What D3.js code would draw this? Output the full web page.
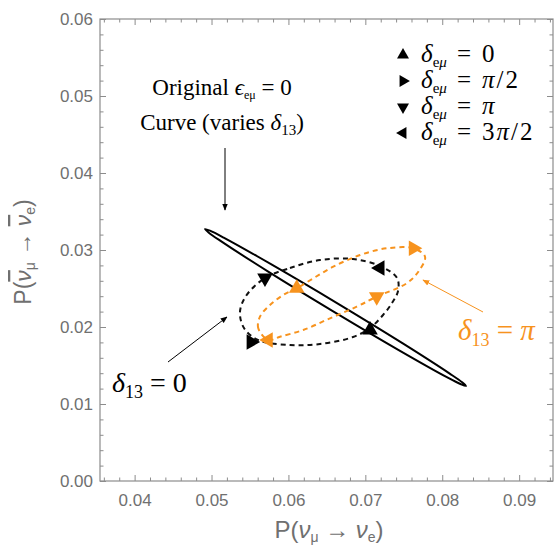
<!DOCTYPE html>
<html><head><meta charset="utf-8">
<script src="https://cdn.jsdelivr.net/npm/d3@7"></script>
<style>body{margin:0;background:#fff}</style>
</head><body>
<svg id="c" width="555" height="548"></svg>
<script>
// ---- data ----
const xTicks = [0.04, 0.05, 0.06, 0.07, 0.08, 0.09];
const yTicks = [0.00, 0.01, 0.02, 0.03, 0.04, 0.05, 0.06];
const xDomain = [0.0355, 0.0944];
const yDomain = [0, 0.06];

// original epsilon=0 curve (solid)
const solidCurve = [
  [0.08309,0.01234],[0.08244,0.01256],[0.08066,0.01345],[0.07434,0.01700],[0.06582,0.02203],
  [0.05737,0.02719],[0.05127,0.03112],[0.04965,0.03225],[0.04915,0.03273],[0.04980,0.03251],
  [0.05158,0.03161],[0.05790,0.02806],[0.06642,0.02304],[0.07487,0.01787],[0.08097,0.01395],
  [0.08259,0.01282]
];
// delta13 = 0 curve (black dashed)
const blackCurve = [
  [0.05695,0.02636],[0.06020,0.02766],[0.06410,0.02870],[0.06840,0.02883],[0.07191,0.02792],
  [0.07412,0.02636],[0.07425,0.02468],[0.07347,0.02312],[0.07230,0.02156],[0.07061,0.01987],
  [0.06840,0.01870],[0.06410,0.01779],[0.06020,0.01766],[0.05604,0.01831],[0.05422,0.01987],
  [0.05370,0.02195],[0.05448,0.02403]
];
// delta13 = pi curve (orange dashed)
const orangeCurve = [
  [0.05738,0.01831],[0.05608,0.01983],[0.05630,0.02134],[0.05760,0.02286],[0.05933,0.02416],
  [0.06108,0.02503],[0.06323,0.02632],[0.06583,0.02783],[0.06931,0.02935],[0.07278,0.03022],
  [0.07624,0.03022],[0.07776,0.02913],[0.07689,0.02718],[0.07538,0.02568],[0.07148,0.02394],
  [0.06888,0.02264],[0.06540,0.02113],[0.06193,0.01961],[0.05890,0.01874]
];
// markers: [x, y, deltaEmu index]  (0:0, 1:pi/2, 2:pi, 3:3pi/2)
const blackMarkers = [
  [0.07061,0.01961,0],[0.05515,0.01805,1],[0.05695,0.02636,2],[0.07191,0.02766,3]
];
const orangeMarkers = [
  [0.06108,0.02503,0],[0.07624,0.03022,1],[0.07148,0.02394,2],[0.05738,0.01831,3]
];
const legendNum = ["0", "", "", "3"];
const legendPi = [false, true, true, true];
const legendDen = ["", "/2", "", "/2"];
const markerRot = [0, 90, 180, 270];

// ---- drawing ----
const svg = d3.select("#c");
const L = 100, R = 553, T = 19, B = 481;
const x = d3.scaleLinear().domain(xDomain).range([L, R]);
const y = d3.scaleLinear().domain(yDomain).range([B, T]);
const gray = "#8c8c8c", tickText = "#707070";
const orange = "#f7931e";
const sans = "'Liberation Sans', Arial, sans-serif";
const serif = "'Liberation Serif', 'Times New Roman', serif";

const minorX = d3.range(0.036, 0.0945, 0.002).filter(v => !xTicks.some(t => Math.abs(t - v) < 1e-6));
const minorY = d3.range(0.002, 0.06, 0.002).filter(v => !yTicks.some(t => Math.abs(t - v) < 1e-6));

function styleAxis(g){
  g.select(".domain").remove();
  g.selectAll(".tick line").attr("stroke", gray).attr("stroke-width", 1);
  g.selectAll(".tick text").attr("fill", tickText)
    .style("font-family", sans).style("font-size", "17px");
}
function axisPair(axisFn, pos, ticks, transform, labels){
  const a = axisFn(pos).tickValues(ticks).tickSizeInner(-6).tickSizeOuter(0);
  if (labels) a.tickPadding(labels).tickFormat(d3.format(".2f")); else a.tickFormat("");
  svg.append("g").attr("transform", transform).call(a).call(styleAxis);
}
axisPair(d3.axisBottom, x, xTicks, `translate(0,${B})`, 13);
axisPair(d3.axisTop, x, xTicks, `translate(0,${T})`, 0);
axisPair(d3.axisLeft, y, yTicks, `translate(${L},0)`, 7);
axisPair(d3.axisRight, y, yTicks, `translate(${R},0)`, 0);
function minor(axisFn, pos, ticks, transform){
  svg.append("g").attr("transform", transform)
    .call(axisFn(pos).tickValues(ticks).tickSizeInner(-3.5).tickSizeOuter(0).tickFormat(""))
    .call(styleAxis);
}
minor(d3.axisBottom, x, minorX, `translate(0,${B})`);
minor(d3.axisTop, x, minorX, `translate(0,${T})`);
minor(d3.axisLeft, y, minorY, `translate(${L},0)`);
minor(d3.axisRight, y, minorY, `translate(${R},0)`);
svg.append("rect").attr("x", L).attr("y", T).attr("width", R - L).attr("height", B - T)
  .attr("fill", "none").attr("stroke", gray).attr("stroke-width", 1.2);

// axis titles
function probTitle(sel, bar){
  sel.append("tspan").text("P(");
  const n1 = sel.append("tspan").attr("font-style", "italic").text("\u03bd");
  sel.append("tspan").attr("font-size", "14px").attr("dy", 4).text("\u03bc");
  sel.append("tspan").attr("dy", -4).text(" \u2192 ");
  const n2 = sel.append("tspan").attr("font-style", "italic").text("\u03bd");
  sel.append("tspan").attr("font-size", "14px").attr("dy", 4).text("e");
  sel.append("tspan").attr("dy", -4).text(")");
  if (bar) { n1.style("text-decoration", "overline"); n2.style("text-decoration", "overline"); }
}
probTitle(svg.append("text").attr("x", 329).attr("y", 538).attr("text-anchor", "middle")
  .attr("fill", tickText).style("font-family", sans).style("font-size", "24px"), false);
probTitle(svg.append("text").attr("transform", "translate(31,252) rotate(-90)").attr("text-anchor", "middle")
  .attr("fill", tickText).style("font-family", sans).style("font-size", "23px"), true);

// curves
const line = d3.line().x(d => x(d[0])).y(d => y(d[1])).curve(d3.curveCatmullRomClosed.alpha(0.5));
svg.append("path").attr("d", line(solidCurve)).attr("fill", "none").attr("stroke", "#000").attr("stroke-width", 2);
svg.append("path").attr("d", line(blackCurve)).attr("fill", "none").attr("stroke", "#111")
  .attr("stroke-width", 2).attr("stroke-dasharray", "5,4");
svg.append("path").attr("d", line(orangeCurve)).attr("fill", "none").attr("stroke", orange)
  .attr("stroke-width", 2).attr("stroke-dasharray", "5,4");

// markers
const tri = d3.symbol().type(d3.symbolTriangle).size(105);
function drawMarkers(data, color){
  svg.append("g").selectAll("path").data(data).join("path")
    .attr("d", tri)
    .attr("transform", d => `translate(${x(d[0])},${y(d[1])}) rotate(${markerRot[d[2]]})`)
    .attr("fill", color);
}
drawMarkers(blackMarkers, "#000");
drawMarkers(orangeMarkers, orange);

// legend
const lg = svg.append("g");
markerRot.forEach((rot, i) => {
  const yy = 55 + i * 26;
  lg.append("path").attr("d", d3.symbol().type(d3.symbolTriangle).size(62)())
    .attr("transform", `translate(403,${yy}) rotate(${rot})`).attr("fill", "#000");
  const t = lg.append("text").attr("x", 421).attr("y", yy + 7).attr("fill", "#000")
    .style("font-family", serif).style("font-size", "25px");
  t.append("tspan").attr("font-style", "italic").text("\u03b4");
  t.append("tspan").attr("font-size", "15px").attr("dy", 5).text("e");
  t.append("tspan").attr("font-size", "15px").attr("font-style", "italic").text("\u03bc");
  t.append("tspan").attr("x", 457).attr("dy", -5).text("=");
  const v = t.append("tspan").attr("x", 482).attr("letter-spacing", "2px");
  if (legendNum[i]) v.append("tspan").text(legendNum[i]);
  if (legendPi[i]) v.append("tspan").attr("font-style", "italic").text("\u03c0");
  if (legendDen[i]) v.append("tspan").text(legendDen[i]);
});

// annotations
const t1 = svg.append("text").attr("x", 222).attr("y", 95).attr("text-anchor", "middle")
  .style("font-family", serif).style("font-size", "23px").attr("fill", "#000");
t1.append("tspan").text("Original ");
t1.append("tspan").attr("font-style", "italic").text("\u03f5");
t1.append("tspan").attr("font-size", "12px").attr("dy", 4).text("e\u03bc");
t1.append("tspan").attr("dy", -4).text(" = 0");
const t2 = svg.append("text").attr("x", 222).attr("y", 130).attr("text-anchor", "middle")
  .style("font-family", serif).style("font-size", "23px").attr("fill", "#000");
t2.append("tspan").text("Curve (varies ");
t2.append("tspan").attr("font-style", "italic").text("\u03b4");
t2.append("tspan").attr("font-size", "15px").attr("dy", 5).text("13");
t2.append("tspan").attr("dy", -5).text(")");

const defs = svg.append("defs");
function arrowHead(id, color){
  defs.append("marker").attr("id", id).attr("viewBox", "0 0 10 10").attr("refX", 9).attr("refY", 5)
    .attr("markerWidth", 7).attr("markerHeight", 7).attr("orient", "auto")
    .append("path").attr("d", "M0,1 L10,5 L0,9 z").attr("fill", color);
}
arrowHead("ah", "#000"); arrowHead("ao", orange);
svg.append("line").attr("x1", 225).attr("y1", 148).attr("x2", 225).attr("y2", 210)
  .attr("stroke", "#000").attr("stroke-width", 1).attr("marker-end", "url(#ah)");
svg.append("line").attr("x1", 168).attr("y1", 362).attr("x2", 227).attr("y2", 317)
  .attr("stroke", "#000").attr("stroke-width", 1).attr("marker-end", "url(#ah)");
svg.append("line").attr("x1", 483).attr("y1", 312).attr("x2", 423).attr("y2", 280)
  .attr("stroke", orange).attr("stroke-width", 1).attr("marker-end", "url(#ao)");

const d0 = svg.append("text").attr("x", 112).attr("y", 392)
  .style("font-family", serif).style("font-size", "28px").attr("fill", "#000");
d0.append("tspan").attr("font-style", "italic").text("\u03b4");
d0.append("tspan").attr("font-size", "18px").attr("dy", 6).text("13");
d0.append("tspan").attr("dy", -6).text(" = 0");
const dp = svg.append("text").attr("x", 458).attr("y", 340)
  .style("font-family", serif).style("font-size", "29px").attr("fill", orange);
dp.append("tspan").attr("font-style", "italic").text("\u03b4");
dp.append("tspan").attr("font-size", "18px").attr("dy", 6).text("13");
dp.append("tspan").attr("dy", -6).text(" = ");
dp.append("tspan").attr("font-style", "italic").text("\u03c0");
</script>
</body></html>
